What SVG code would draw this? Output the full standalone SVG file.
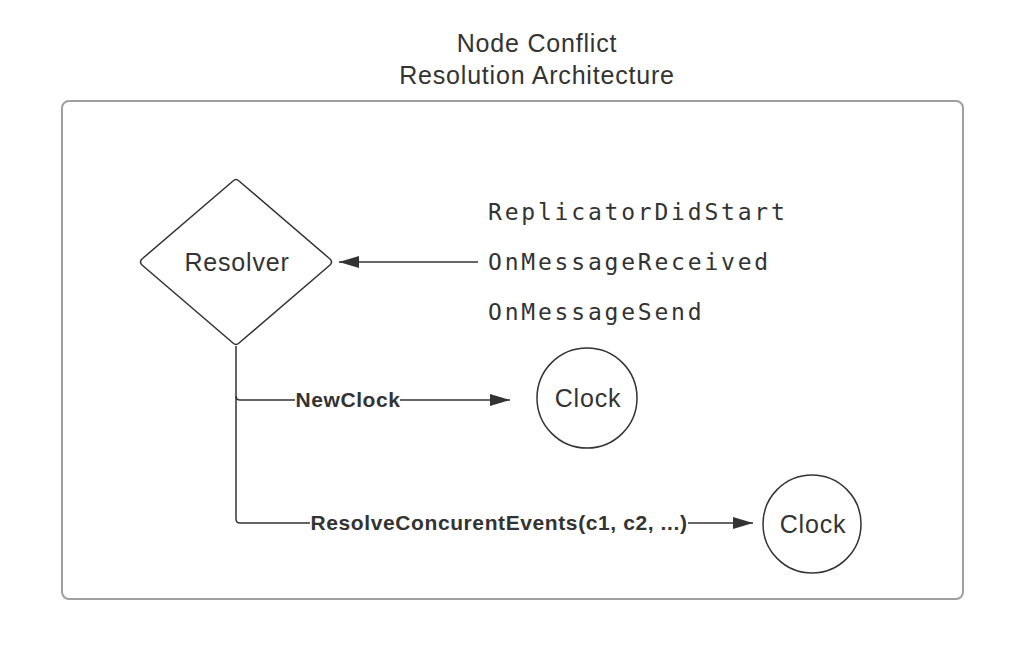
<svg xmlns="http://www.w3.org/2000/svg" width="1036" height="672" viewBox="0 0 1036 672">
<style>
.t{font-family:"Liberation Sans",Arial,sans-serif;font-size:25px;letter-spacing:0.8px;fill:#333;text-anchor:middle}
.m{font-family:"DejaVu Sans Mono","Liberation Mono",monospace;font-size:23px;letter-spacing:2.8px;fill:#333}
.b{font-family:"Liberation Sans",Arial,sans-serif;font-size:21px;font-weight:bold;letter-spacing:0.6px;fill:#333;text-anchor:middle}
.shape{fill:#fff;stroke:#333;stroke-width:1.5}
.edge{fill:none;stroke:#333;stroke-width:1.5}
</style>
<defs>
<marker id="ah" markerWidth="20" markerHeight="12" refX="20" refY="6" orient="auto" markerUnits="userSpaceOnUse">
<path d="M0,0 L20,6 L0,12 Z" fill="#333"/>
</marker>
</defs>
<rect width="1036" height="672" fill="#fff"/>
<g id="title">
<text class="t" x="537" y="52">Node Conflict</text>
<text class="t" x="537" y="84">Resolution Architecture</text>
</g>
<g id="container">
<rect x="62" y="101" width="901" height="498" rx="7" fill="none" stroke="#a0a0a0" stroke-width="2"/>
</g>
<g id="connectors">
<line class="edge" x1="478" y1="262" x2="339" y2="262" marker-end="url(#ah)"/>
<path class="edge" d="M236,346 L236,396 Q236,400 240,400 L295,400"/>
<line class="edge" x1="400" y1="400" x2="510" y2="400" marker-end="url(#ah)"/>
<path class="edge" d="M236,396 L236,519 Q236,523 240,523 L310,523"/>
<line class="edge" x1="688" y1="523" x2="753" y2="523" marker-end="url(#ah)"/>
<text class="b" x="348" y="407">NewClock</text>
<text class="b" x="499" y="530">ResolveConcurentEvents(c1, c2, ...)</text>
</g>
<g id="resolver">
<path class="shape" d="M233,181 Q236,178 239,181 L330,259 Q333,262 330,265 L239,343 Q236,346 233,343 L142,265 Q139,262 142,259 Z"/>
<text class="t" x="237" y="271">Resolver</text>
</g>
<g id="events">
<text class="m" x="488" y="220">ReplicatorDidStart</text>
<text class="m" x="488" y="270">OnMessageReceived</text>
<text class="m" x="488" y="320">OnMessageSend</text>
</g>
<g id="clock1">
<circle class="shape" cx="587" cy="398" r="50"/>
<text class="t" x="588" y="407">Clock</text>
</g>
<g id="clock2">
<circle class="shape" cx="812" cy="524" r="49"/>
<text class="t" x="813" y="533">Clock</text>
</g>
</svg>
